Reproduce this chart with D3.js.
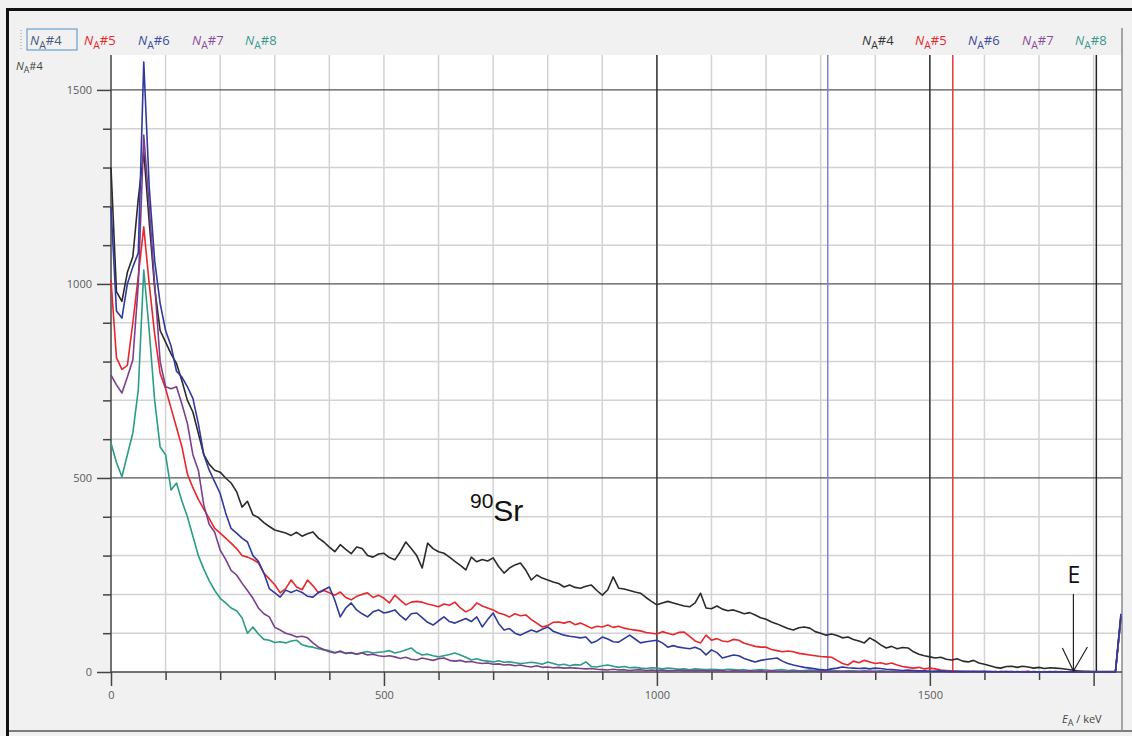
<!DOCTYPE html>
<html lang="en">
<head>
<meta charset="UTF-8">
<title>90Sr spectrum</title>
<script src="https://d3js.org/d3.v7.min.js"></script>
<style>
  body { margin: 0; background: #fff; }
  text { font-family: "Open Sans", "DejaVu Sans", sans-serif; }
</style>
</head>
<body>
<script>
// channel width 10 keV, channels 0 ... 1850 keV
const STEP = 10;

const seriesNames = ["#4", "#5", "#6", "#7", "#8"];
const seriesColors = ["#2b2b2b", "#e8262c", "#2f3a9c", "#7b3f8c", "#2a9d86"];

const na4 = [
  1300, 980, 955, 1030, 1070, 1220, 1340, 1160, 990, 880,
  850, 820, 795, 750, 700, 670, 615, 560, 535, 520,
  515, 500, 487, 465, 425, 440, 405, 398, 385, 375,
  366, 362, 358, 352, 360, 350, 356, 361, 345, 335,
  322, 310, 328, 316, 305, 322, 318, 300, 296, 304,
  306, 295, 289, 310, 335, 318, 300, 268, 332, 318,
  310, 306, 296, 285, 275, 263, 296, 284, 290, 286,
  294, 272, 255, 268, 276, 281, 262, 237, 250, 242,
  237, 232, 228, 219, 224, 218, 216, 221, 224, 210,
  198, 212, 245, 216, 214, 210, 206, 203, 192, 182,
  173, 178, 182, 178, 174, 170, 168, 178, 203, 165,
  163, 170, 162, 158, 160, 155, 150, 153, 147, 140,
  136, 129, 124, 118, 112, 108, 114, 116, 113, 104,
  100, 95, 98, 94, 88, 90, 84, 80, 75, 88,
  80, 70, 62, 66, 60, 63, 62, 52, 46, 42,
  39, 36, 38, 33, 31, 34, 28, 26, 30, 23,
  20, 16, 12, 10, 14, 15, 12, 15, 13, 10,
  12, 9, 11, 10, 9, 7, 5, 3, 2, 2,
  1, 1, 1, 1, 1, 140
];

const na5 = [
  1010, 810, 780, 790, 900, 1020, 1147, 1000, 870, 770,
  730, 680, 630, 580, 510, 475, 445, 420, 395, 370,
  358, 345, 332, 318, 300, 296, 290, 281, 255, 240,
  225, 204, 215, 237, 219, 212, 237, 222, 204, 210,
  204, 198, 206, 192, 186, 195, 200, 204, 192, 198,
  190, 178, 198, 185, 173, 180, 182, 180, 175, 172,
  168, 175, 172, 180, 165, 155, 162, 178, 170, 165,
  160, 152, 148, 142, 150, 145, 147, 135, 126, 116,
  120, 128, 129, 126, 130, 122, 126, 120, 113, 118,
  116, 121, 115, 118, 113, 110, 108, 106, 102, 100,
  98, 104, 100, 96, 102, 103, 92, 80, 75, 95,
  82, 86, 80, 78, 84, 82, 74, 70, 66, 64,
  64, 58, 55, 52, 54, 52, 48, 46, 44, 42,
  40, 39, 38, 30, 22, 18, 28, 24, 30, 26,
  22, 24, 20, 23, 18, 14, 12, 10, 12, 8,
  10, 8, 5, 4, 3, 2, 2, 1, 1, 1,
  1, 1, 1, 0, 1, 1, 0, 1, 1, 0,
  0, 1, 0, 0, 1, 0, 0, 0, 1, 0,
  0, 0, 0, 0, 0, 140
];

const na6 = [
  1198, 930, 912, 1000, 1044, 1080, 1572, 1250, 1060, 950,
  880, 840, 775, 760, 735, 705, 640, 560, 520, 490,
  460, 410, 370, 358, 345, 335, 300, 285, 255, 215,
  204, 193, 211, 205, 211, 205, 195, 193, 205, 212,
  219, 185, 142, 165, 178, 160, 150, 142, 155, 160,
  152, 155, 160, 145, 134, 150, 152, 140, 128, 121,
  132, 142, 130, 126, 132, 138, 130, 142, 116, 135,
  152, 125, 108, 112, 100, 95, 102, 108, 103, 110,
  116, 105, 100, 95, 92, 90, 88, 90, 75, 80,
  90, 85, 78, 77, 86, 95, 85, 75, 78, 80,
  82, 75, 64, 68, 64, 62, 60, 64, 58, 44,
  57, 50, 36, 40, 44, 42, 35, 30, 26, 30,
  32, 34, 36, 28, 22, 18, 15, 12, 10, 8,
  6, 5, 8, 10, 13, 11, 10, 9, 10, 8,
  10, 9, 7, 6, 5, 4, 5, 4, 3, 3,
  2, 2, 3, 2, 1, 2, 1, 1, 2, 1,
  1, 1, 0, 1, 1, 0, 1, 0, 0, 1,
  0, 0, 1, 0, 0, 0, 1, 0, 0, 0,
  0, 0, 0, 0, 0, 150
];

const na7 = [
  765, 740, 719, 760, 804, 1000, 1384, 1200, 1000, 800,
  735, 730, 735, 690, 640, 560, 520, 430, 380, 360,
  314, 290, 262, 250, 229, 210, 190, 165, 150, 142,
  115, 108, 100, 96, 90, 92, 88, 75, 64, 58,
  52, 49, 54, 48, 50, 46, 49, 44, 46, 42,
  40, 42, 39, 35, 38, 33, 31, 36, 33, 30,
  34, 36, 30, 28, 30, 26, 27, 24, 22, 23,
  20, 21, 18, 19, 16, 18, 15, 13, 16, 12,
  13, 11, 12, 10, 11, 10, 9, 8, 9, 7,
  6, 5, 7, 5, 6, 4, 5, 6, 4, 5,
  4, 5, 3, 4, 5, 3, 4, 3, 4, 3,
  3, 4, 3, 2, 3, 3, 2, 3, 2, 3,
  2, 3, 2, 2, 1, 2, 2, 1, 2, 2,
  1, 2, 1, 1, 2, 1, 1, 1, 1, 2,
  1, 1, 1, 0, 1, 1, 1, 0, 1, 1,
  0, 1, 1, 0, 1, 0, 0, 1, 0, 0,
  1, 0, 0, 1, 0, 0, 0, 0, 1, 0,
  0, 0, 0, 1, 0, 0, 0, 0, 0, 0,
  0, 0, 0, 0, 0, 145
];

const na8 = [
  590, 540, 503, 560, 616, 727, 1036, 880, 700, 580,
  560, 469, 487, 440, 400, 350, 300, 265, 235, 210,
  190, 178, 165, 158, 140, 100, 116, 98, 84, 82,
  76, 78, 75, 80, 82, 70, 66, 64, 60, 57,
  55, 50, 52, 48, 49, 46, 50, 53, 49, 51,
  52, 55, 49, 52, 57, 62, 50, 44, 46, 42,
  39, 42, 45, 49, 44, 38, 31, 34, 30, 28,
  26, 29, 25, 26, 24, 22, 23, 25, 23, 20,
  26, 22, 18, 20, 16, 19, 18, 26, 14, 13,
  16, 18, 15, 12, 14, 11, 12, 10, 9, 11,
  10, 8, 10, 9, 7, 8, 6, 8, 7, 6,
  7, 6, 5, 7, 6, 5, 6, 4, 5, 6,
  5, 4, 5, 6, 4, 5, 3, 4, 5, 3,
  4, 3, 4, 3, 2, 3, 3, 2, 3, 2,
  2, 3, 2, 2, 1, 2, 2, 1, 2, 1,
  1, 2, 1, 1, 1, 0, 1, 1, 0, 1,
  1, 0, 1, 0, 0, 1, 0, 0, 1, 0,
  0, 0, 0, 1, 0, 0, 0, 0, 0, 0,
  0, 0, 0, 0, 0, 140
];

const xTicks = d3.range(0, 1801, 100);
const yTicks = d3.range(0, 1501, 100);
// cursor lines (keV) and their colours
const cursorE = [1000, 1500, 1805, 1313, 1542];
const cursorColors = ["#333", "#333", "#222", "#7c82d6", "#e83a3a"];

const width = 1132, height = 736;
const svg = d3.select("body").append("svg")
  .attr("width", width).attr("height", height);

// background + frame
svg.append("rect").attr("width", width).attr("height", height).attr("fill", "#f1f1f1");
svg.append("rect").attr("x", 6).attr("y", 8).attr("width", width - 6).attr("height", 3).attr("fill", "#111");
svg.append("rect").attr("x", 6).attr("y", 8).attr("width", 3).attr("height", height - 8).attr("fill", "#111");
svg.append("line").attr("x1", 9).attr("x2", width).attr("y1", 731).attr("y2", 731)
  .attr("stroke", "#555").attr("stroke-width", 1.5);

const x = d3.scaleLinear().domain([0, 1852]).range([111, 1122]);
const y = d3.scaleLinear().domain([0, 1590]).range([672, 55]);

svg.append("rect").attr("x", 111).attr("y", 55).attr("width", 1011).attr("height", 617).attr("fill", "#fff");

// grid
svg.append("g").selectAll("line").data(xTicks.filter(d => d > 0)).join("line")
  .attr("x1", d => x(d)).attr("x2", d => x(d)).attr("y1", 55).attr("y2", 672)
  .attr("stroke", "#d2d2d2").attr("stroke-width", 1.5);
svg.append("g").selectAll("line").data(yTicks.filter(d => d > 0)).join("line")
  .attr("x1", 111).attr("x2", 1122).attr("y1", d => y(d)).attr("y2", d => y(d))
  .attr("stroke", d => d % 500 === 0 ? "#555" : "#d2d2d2").attr("stroke-width", d => d % 500 === 0 ? 1.3 : 1.5);

// cursors
svg.append("g").selectAll("line").data(cursorE).join("line")
  .attr("x1", d => x(d)).attr("x2", d => x(d)).attr("y1", 55).attr("y2", 672)
  .attr("stroke", (d, i) => cursorColors[i]).attr("stroke-width", 1.5);

// right border of plot
svg.append("line").attr("x1", 1122).attr("x2", 1122).attr("y1", 28).attr("y2", 731)
  .attr("stroke", "#8a8a8a").attr("stroke-width", 1.5);

// axes
const xAxis = svg.append("g").attr("transform", "translate(0,672)")
  .call(d3.axisBottom(x).tickValues(xTicks).tickSize(12).tickPadding(7)
    .tickFormat(d => d % 500 === 0 ? d : ""));
xAxis.selectAll(".tick line").attr("y2", d => d % 500 === 0 || d === 1800 ? 14 : 8);
const yAxis = svg.append("g").attr("transform", "translate(111,0)")
  .call(d3.axisLeft(y).tickValues(yTicks).tickSize(14).tickPadding(5)
    .tickFormat(d => d % 500 === 0 ? d : ""));
yAxis.selectAll(".tick line").attr("x2", d => d % 500 === 0 ? -14 : -8);
[xAxis, yAxis].forEach(a => {
  a.select(".domain").remove();
  a.selectAll(".tick line").attr("stroke", "#444").attr("stroke-width", 1.5);
  a.selectAll("text").attr("fill", "#5a5a5a").style("font-size", "11px").style("font-family", "Open Sans");
});
svg.append("line").attr("x1", 111).attr("x2", 1122).attr("y1", 672).attr("y2", 672)
  .attr("stroke", "#444").attr("stroke-width", 1.5);
svg.append("line").attr("x1", 111).attr("x2", 111).attr("y1", 55).attr("y2", 672)
  .attr("stroke", "#444").attr("stroke-width", 1.5);

// series
const seriesData = [na4, na5, na6, na7, na8];
const line = d3.line().x((d, i) => x(i * STEP)).y(d => y(d));
const drawOrder = [0, 1, 4, 3, 2];
svg.append("g").selectAll("path").data(drawOrder).join("path")
  .attr("d", k => line(seriesData[k]))
  .attr("fill", "none")
  .attr("stroke", k => seriesColors[k])
  .attr("stroke-width", 1.6)
  .attr("stroke-linejoin", "round");

// N_A label helper
function naLabel(g, xPos, yPos, suffix, color, size) {
  const t = g.append("text").attr("x", xPos).attr("y", yPos)
    .attr("fill", color).style("font-size", size + "px");
  t.append("tspan").attr("font-style", "italic").text("N");
  t.append("tspan").attr("dy", size * 0.3).style("font-size", (size * 0.8) + "px").text("A");
  t.append("tspan").attr("dy", -size * 0.3).text(suffix);
  return t;
}

// legends
const legendColors = ["#4a5a7a", "#e8262c", "#3c4ca0", "#8a4f9a", "#3a9a8c"];
const leftX = [30, 84, 138, 192, 245];
svg.append("line").attr("x1", 21).attr("x2", 21).attr("y1", 30).attr("y2", 50)
  .attr("stroke", "#999").attr("stroke-dasharray", "1,2");
svg.append("rect").attr("x", 27).attr("y", 29).attr("width", 50).attr("height", 21)
  .attr("fill", "none").attr("stroke", "#6a9fcf").attr("stroke-width", 1.2);
seriesNames.forEach((s, i) => naLabel(svg, leftX[i], 45, s, legendColors[i], 13));
const rightX = [862, 915, 968, 1022, 1075];
const rightColors = ["#333", "#e8262c", "#3c4ca0", "#8a4f9a", "#3a9a8c"];
seriesNames.forEach((s, i) => naLabel(svg, rightX[i], 45, s, rightColors[i], 13));

// axis titles
naLabel(svg, 16, 70, "#4", "#444", 11);
const et = svg.append("text").attr("x", 1062).attr("y", 723).attr("fill", "#444").style("font-size", "11px");
et.append("tspan").attr("font-style", "italic").text("E");
et.append("tspan").attr("dy", 3).style("font-size", "9px").text("A");
et.append("tspan").attr("dy", -3).text(" / keV");

// annotations
const sr = svg.append("text").attr("x", 470).attr("y", 521).attr("fill", "#111")
  .style("font-family", "Liberation Sans, Arial, sans-serif");
sr.append("tspan").style("font-size", "21px").attr("dy", -13).text("90");
sr.append("tspan").style("font-size", "30px").attr("dy", 13).text("Sr");

svg.append("text").attr("x", 1074).attr("y", 583).attr("text-anchor", "middle")
  .attr("fill", "#111").style("font-size", "23px").text("E");
svg.append("line").attr("x1", x(1763)).attr("x2", x(1763)).attr("y1", 594).attr("y2", 671)
  .attr("stroke", "#222").attr("stroke-width", 1.2);
svg.append("path")
  .attr("d", `M${x(1763) - 11},648 L${x(1763)},671 L${x(1763) + 14},647`)
  .attr("fill", "none").attr("stroke", "#222").attr("stroke-width", 1.2);
</script>
</body>
</html>
